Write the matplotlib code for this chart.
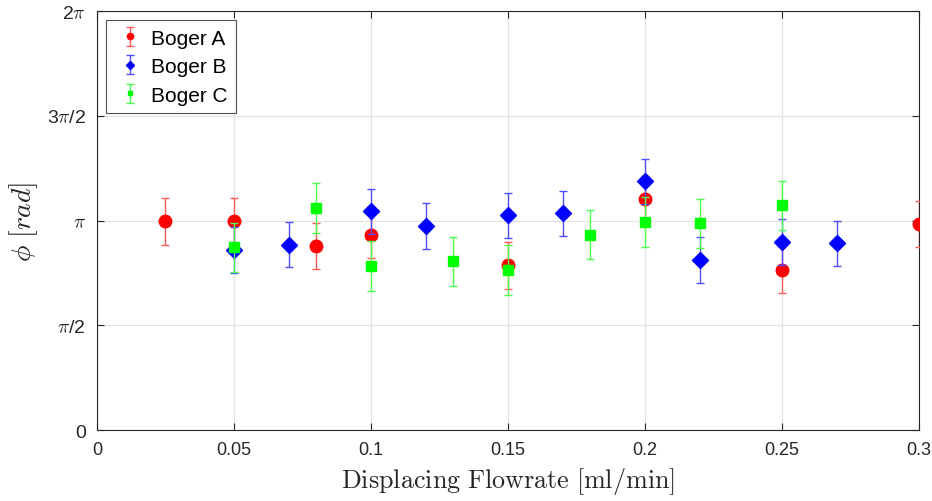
import numpy as np
import matplotlib
matplotlib.use("Agg")
import matplotlib.pyplot as plt
from matplotlib.legend_handler import HandlerErrorbar

plt.rcParams['font.family'] = ['Liberation Sans', 'DejaVu Sans']
plt.rcParams['mathtext.fontset'] = 'cm'

# Boger A
xa = [0.025, 0.05, 0.08, 0.1, 0.15, 0.2, 0.25, 0.3]
ya = [3.13, 3.13, 2.76, 2.93, 2.47, 3.46, 2.40, 3.09]
ea = [0.35] * len(xa)

# Boger B
xb = [0.05, 0.07, 0.1, 0.12, 0.15, 0.17, 0.2, 0.22, 0.25, 0.27]
yb = [2.70, 2.78, 3.28, 3.06, 3.22, 3.25, 3.73, 2.55, 2.82, 2.80]
eb = [0.34] * len(xb)

# Boger C
xc = [0.05, 0.08, 0.1, 0.13, 0.15, 0.18, 0.2, 0.22, 0.25]
yc = [2.74, 3.33, 2.46, 2.53, 2.40, 2.93, 3.12, 3.10, 3.37]
ec = [0.37] * len(xc)

xticks = [0, 0.05, 0.1, 0.15, 0.2, 0.25, 0.3]
xticklabels = ['0', '0.05', '0.1', '0.15', '0.2', '0.25', '0.3']
yticks = [0, np.pi / 2, np.pi, 3 * np.pi / 2, 2 * np.pi]
yticklabels = ['0', r'$\pi$/2', r'$\pi$', r'3$\pi$/2', r'2$\pi$']

fig = plt.figure(figsize=(9.32, 5.02), dpi=100)
ax = fig.add_axes([0.104, 0.1414, 0.882, 0.8346])

ha = ax.errorbar(xa, ya, yerr=ea, fmt='o', color='#ff0000', ms=9, capsize=3,
                 elinewidth=1, capthick=1, ecolor=(1, 0.35, 0.35), label='Boger A', zorder=3)
hb = ax.errorbar(xb, yb, yerr=eb, fmt='D', color='#0000ff', ms=8, capsize=3,
                 elinewidth=1, capthick=1, ecolor=(0.3, 0.3, 1), label='Boger B', zorder=4)
hc = ax.errorbar(xc, yc, yerr=ec, fmt='s', color='#00ff00', ms=6.5, capsize=3,
                 elinewidth=1, capthick=1, ecolor=(0.3, 1, 0.3), label='Boger C', zorder=5)

ax.set_xlim(0, 0.3)
ax.set_ylim(0, 2 * np.pi)
ax.set_xticks(xticks)
ax.set_xticklabels(xticklabels)
ax.set_yticks(yticks)
ax.set_yticklabels(yticklabels)
ax.tick_params(direction='in', length=5, width=0.8, top=True, right=True,
               labelsize=13, colors='#262626', pad=8)
ax.tick_params(axis='y', labelsize=14)
ax.grid(True, color='#e3e3e3', linewidth=0.9)
ax.set_axisbelow(True)
for s in ax.spines.values():
    s.set_color('#262626')
    s.set_linewidth(0.8)

ax.set_xlabel(r'$\mathrm{Displacing\ Flowrate\ [ml/min]}$', fontsize=18.8, color='#262626', labelpad=5)
ax.set_ylabel(r'$\phi\ [rad]$', fontsize=20, color='#262626', labelpad=5)

leg = ax.legend(handles=[ha, hb, hc], loc='upper left', fontsize=15, frameon=True, fancybox=False,
                edgecolor='#262626', handlelength=1.5, borderaxespad=0.45, borderpad=0.4,
                labelspacing=0.45, handletextpad=0.25, markerscale=0.5,
                handler_map={type(ha): HandlerErrorbar(xerr_size=0.45)})
leg.get_frame().set_linewidth(0.8)

fig.savefig('out.png', dpi=100)
